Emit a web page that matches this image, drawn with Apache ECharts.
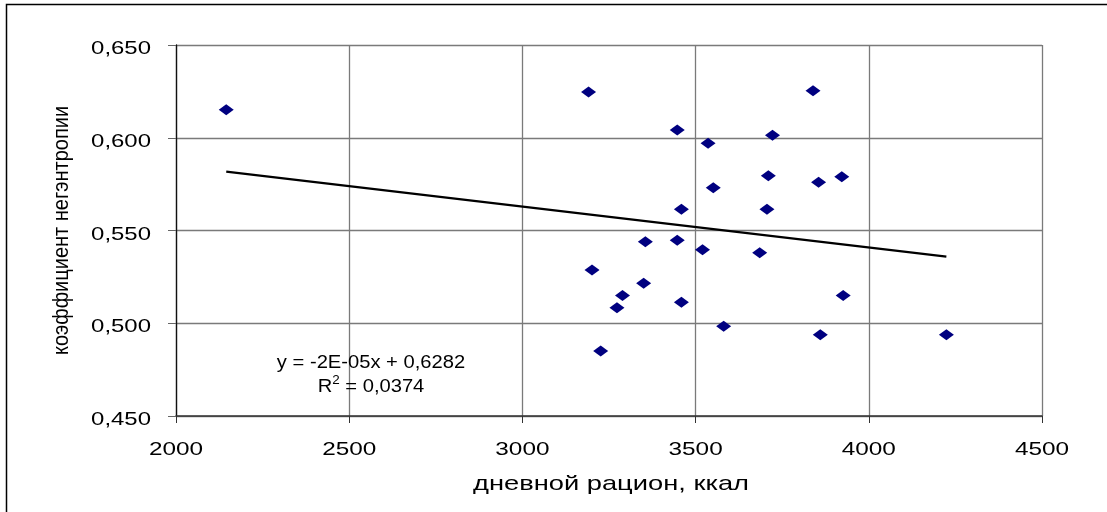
<!DOCTYPE html>
<html>
<head>
<meta charset="utf-8">
<script src="https://cdn.jsdelivr.net/npm/echarts@6/dist/echarts.min.js"></script>
<style>
html,body{margin:0;padding:0;background:#fff;}
#chart{width:1107px;height:512px;}
</style>
</head>
<body>
<div id="chart"></div>
<script>
// Data
const dietKcal = [2145, 3191, 3447, 3536, 3839, 3722, 3710, 3551, 3855, 3922, 3459, 3706, 3355, 3447, 3520, 3685, 3201, 3350, 3289, 3273, 3459, 3926, 3581, 3860, 4224, 3226];
const negentropy = [0.6151, 0.6247, 0.6042, 0.5970, 0.6254, 0.6013, 0.5795, 0.5731, 0.5760, 0.5790, 0.5614, 0.5614, 0.5440, 0.5447, 0.5396, 0.5380, 0.5287, 0.5215, 0.5149, 0.5084, 0.5113, 0.5149, 0.4984, 0.4938, 0.4938, 0.4850];
const trendX = [2145, 4224];
const trendY = [0.5817, 0.5359];
const xTicks = [2000, 2500, 3000, 3500, 4000, 4500];
const yTicks = [0.450, 0.500, 0.550, 0.600, 0.650];
const xTickLabels = ['2000', '2500', '3000', '3500', '4000', '4500'];
const yTickLabels = ['0,450', '0,500', '0,550', '0,600', '0,650'];
const xTitle = 'дневной рацион, ккал';
const yTitle = 'коэффициент негэнтропии';
const eqLine1 = 'y = -2E-05x + 0,6282';
const eqLine2a = 'R';
const eqSup = '2';
const eqLine2b = ' = 0,0374';

const FONT = '"Liberation Sans", Arial, sans-serif';
const chart = echarts.init(document.getElementById('chart'), null, {renderer: 'canvas'});

const points = dietKcal.map((x, i) => [x, negentropy[i]]);
const trend = trendX.map((x, i) => [x, trendY[i]]);

chart.setOption({
  animation: false,
  backgroundColor: '#fff',
  grid: {left: 176, right: 65, top: 45, bottom: 96, containLabel: false},
  xAxis: {
    type: 'value',
    min: xTicks[0], max: xTicks[xTicks.length - 1], interval: 500,
    axisLine: {show: true, onZero: false, lineStyle: {color: '#333', width: 1.5}},
    axisTick: {show: true, inside: false, length: 7, lineStyle: {color: '#333'}},
    axisLabel: {show: false},
    splitLine: {show: true, lineStyle: {color: '#7a7a7a', width: 1.3}}
  },
  yAxis: {
    type: 'value',
    min: yTicks[0], max: yTicks[yTicks.length - 1], interval: 0.05,
    axisLine: {show: true, onZero: false, lineStyle: {color: '#111', width: 1.3}},
    axisTick: {show: true, inside: false, length: 8, lineStyle: {color: '#666'}},
    axisLabel: {show: false},
    splitLine: {show: true, lineStyle: {color: '#7a7a7a', width: 1.3}}
  },
  series: [
    {
      type: 'line', data: trend, symbol: 'none', silent: true,
      lineStyle: {color: '#000', width: 2.2}, z: 2
    },
    {
      type: 'scatter', data: points, symbol: 'diamond', symbolSize: [15, 11],
      itemStyle: {color: '#000080', opacity: 1}, z: 3
    }
  ]
});

// Tick labels and titles as text placed through the library's own axis scales
const gfx = [
  {
    type: 'rect', silent: true, z: -1,
    shape: {x: 6.5, y: 4.5, width: 1200, height: 600},
    style: {fill: 'none', stroke: '#000', lineWidth: 1.5}
  }
];
xTicks.forEach((v, i) => {
  const p = chart.convertToPixel({gridIndex: 0}, [v, yTicks[0]]);
  gfx.push({
    type: 'text', silent: true, x: p[0], y: p[1] + 34, scaleX: 1.28,
    style: {text: xTickLabels[i], font: '19px ' + FONT, fill: '#000', align: 'center', verticalAlign: 'middle'}
  });
});
yTicks.forEach((v, i) => {
  const p = chart.convertToPixel({gridIndex: 0}, [xTicks[0], v]);
  gfx.push({
    type: 'text', silent: true, x: p[0] - 25, y: p[1] + 4, scaleX: 1.26,
    style: {text: yTickLabels[i], font: '19px ' + FONT, fill: '#000', align: 'right', verticalAlign: 'middle'}
  });
});
const c0 = chart.convertToPixel({gridIndex: 0}, [xTicks[0], yTicks[0]]);
const c1 = chart.convertToPixel({gridIndex: 0}, [xTicks[xTicks.length - 1], yTicks[yTicks.length - 1]]);
gfx.push({
  type: 'text', silent: true, x: (c0[0] + c1[0]) / 2 + 2, y: c0[1] + 68, scaleX: 1.3,
  style: {text: xTitle, font: '21px ' + FONT, fill: '#000', align: 'center', verticalAlign: 'middle'}
});
gfx.push({
  type: 'text', silent: true, x: c0[0] - 114, y: (c0[1] + c1[1]) / 2, rotation: Math.PI / 2, scaleY: 1.1,
  style: {text: yTitle, font: '20px ' + FONT, fill: '#000', align: 'center', verticalAlign: 'middle'}
});
gfx.push({
  type: 'text', silent: true, z: 10, x: 371, y: 375, scaleX: 1.12,
  style: {
    text: '{n|' + eqLine1 + '}\n{n|' + eqLine2a + '}{s|' + eqSup + '}{n|' + eqLine2b + '}',
    align: 'center', verticalAlign: 'middle',
    rich: {
      n: {fontFamily: FONT, fontSize: 18, lineHeight: 23.5, fill: '#000'},
      s: {fontFamily: FONT, fontSize: 12, lineHeight: 12, verticalAlign: 'top', fill: '#000'}
    }
  }
});
chart.setOption({graphic: gfx});
</script>
</body>
</html>
